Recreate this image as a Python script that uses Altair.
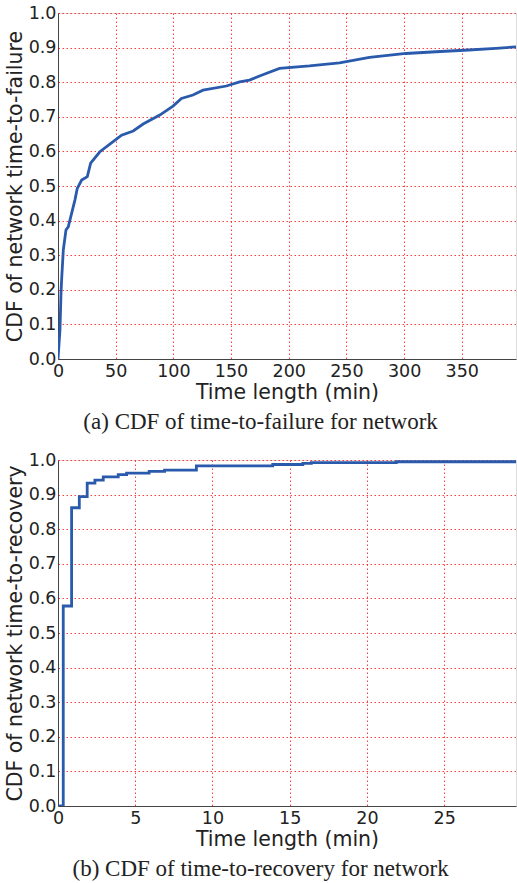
import altair as alt
import pandas as pd

# Top panel: CDF of time-to-failure (min)
ttf_x = [0, 1.7, 2.6, 3.2, 4.6, 6.9, 8.9, 11.8, 14.7, 16.7, 20.5, 25.4, 28.3, 36.3, 47.8,
         55.1, 65.2, 73.8, 88.2, 99.7, 107, 117, 125.7, 146, 157.4, 166, 174.7, 192, 218,
         244, 270, 301.6, 327.6, 356, 379.5, 397]
ttf_y = [0.0, 0.084, 0.19, 0.233, 0.315, 0.373, 0.382, 0.421, 0.46, 0.493, 0.517, 0.527,
         0.566, 0.599, 0.628, 0.647, 0.659, 0.679, 0.705, 0.731, 0.753, 0.763, 0.777, 0.789,
         0.801, 0.806, 0.818, 0.84, 0.847, 0.856, 0.872, 0.883, 0.888, 0.893, 0.898, 0.902]

# Bottom panel: CDF of time-to-recovery (min), step function
ttr_x = [0, 0.34, 0.88, 1.38, 1.89, 2.39, 2.93, 3.9, 4.44, 5.9, 6.9, 8.96, 13.9, 15.85,
         16.4, 21.9, 29.65]
ttr_y = [0.0, 0.578, 0.862, 0.894, 0.933, 0.942, 0.951, 0.958, 0.962, 0.967, 0.971, 0.983,
         0.987, 0.990, 0.9925, 0.995, 0.995]

top_ticks = [0, 50, 100, 150, 200, 250, 300, 350]
bot_ticks = [0, 5, 10, 15, 20, 25]
y_ticks = [0.0, 0.1, 0.2, 0.3, 0.4, 0.5, 0.6, 0.7, 0.8, 0.9, 1.0]

LINE = "#2a5aac"
W, H = 458, 346


def xaxis(values):
    return alt.Axis(values=values, title="Time length (min)", format="d", labelFlush=False,
                    ticks=False, labelPadding=3, titlePadding=3,
                    labelFont="DejaVu Sans", labelFontSize=17.5, labelColor="#222",
                    titleFont="DejaVu Sans", titleFontSize=20.5, titleFontWeight="normal",
                    titleColor="#222", grid=True, gridColor="#ff2a2a", gridDash=[1.5, 2.5],
                    gridWidth=1, gridOpacity=0.9, domain=True, domainColor="#444")


def yaxis(title):
    return alt.Axis(values=y_ticks, title=title, format=".1f", labelFlush=False,
                    ticks=False, labelPadding=2, titlePadding=3,
                    labelFont="DejaVu Sans", labelFontSize=17.5, labelColor="#222",
                    titleFont="DejaVu Sans", titleFontSize=20.5, titleFontWeight="normal",
                    titleColor="#222", grid=True, gridColor="#ff2a2a", gridDash=[1.5, 2.5],
                    gridWidth=1, gridOpacity=0.9, domain=True, domainColor="#444")


def panel(x, y, xmax, ticks, ytitle, caption, interp):
    df = pd.DataFrame({"t": x, "p": y})
    return alt.Chart(df).mark_line(color=LINE, strokeWidth=2.8, clip=True,
                                   interpolate=interp).encode(
        x=alt.X("t:Q", scale=alt.Scale(domain=[0, xmax], nice=False, zero=False),
                axis=xaxis(ticks)),
        y=alt.Y("p:Q", scale=alt.Scale(domain=[0, 1], nice=False),
                axis=yaxis(ytitle)),
    ).properties(
        width=W, height=H,
        title=alt.TitleParams(text=caption, orient="bottom", font="Liberation Serif",
                              fontSize=23, fontWeight="normal", color="#222",
                              frame="bounds", anchor="middle", offset=8),
    )


top = panel(ttf_x, ttf_y, 397, top_ticks, "CDF of network time-to-failure",
            "(a)  CDF of time-to-failure for network", "linear")
bot = panel(ttr_x, ttr_y, 29.65, bot_ticks, "CDF of network time-to-recovery",
            "(b)  CDF of time-to-recovery for network", "step-after")

chart = alt.vconcat(top, bot, spacing=15).properties(
    padding={"left": 4, "top": 3, "right": 0, "bottom": 0}
).configure_view(stroke="#444", strokeWidth=1).configure(background="white")

chart.save("out.html", embed_options={"renderer": "svg", "actions": False})
